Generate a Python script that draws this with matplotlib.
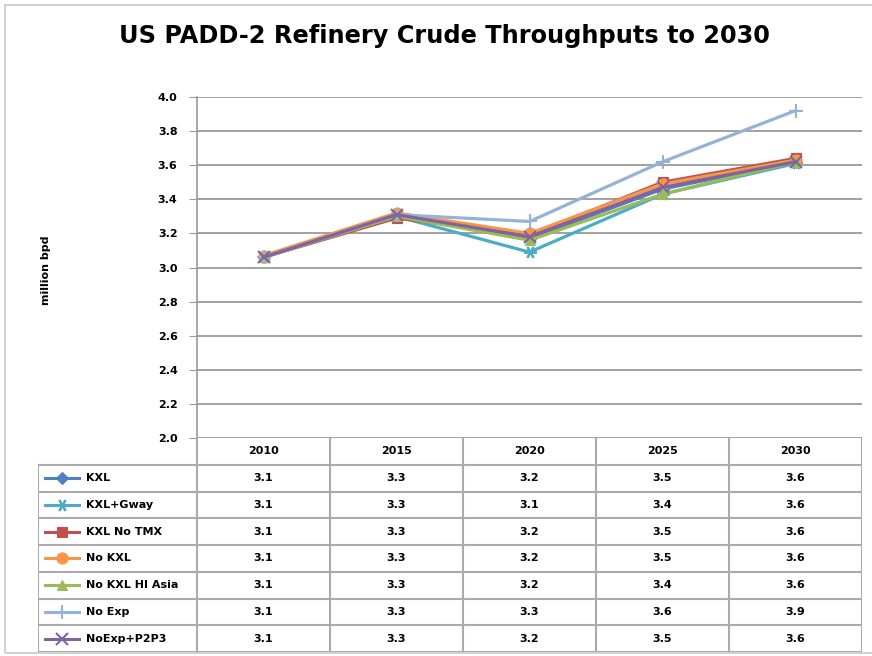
"""
US PADD-2 refinery crude throughputs chart with data table underneath.
"""
import matplotlib
matplotlib.use("Agg")
import matplotlib.pyplot as plt
from matplotlib.lines import Line2D
from matplotlib.patches import Rectangle

years = ["2010", "2015", "2020", "2025", "2030"]
series_names = ["KXL", "KXL+Gway", "KXL No TMX", "No KXL",
                "No KXL HI Asia", "No Exp", "NoExp+P2P3"]

kxl = [3.06, 3.31, 3.17, 3.46, 3.62]
kxl_gway = [3.06, 3.30, 3.09, 3.43, 3.61]
kxl_no_tmx = [3.06, 3.29, 3.19, 3.50, 3.64]
no_kxl = [3.07, 3.32, 3.20, 3.49, 3.63]
no_kxl_hi_asia = [3.06, 3.30, 3.16, 3.43, 3.62]
no_exp = [3.06, 3.31, 3.27, 3.62, 3.92]
noexp_p2p3 = [3.06, 3.31, 3.18, 3.47, 3.62]

series_values = [kxl, kxl_gway, kxl_no_tmx, no_kxl, no_kxl_hi_asia, no_exp, noexp_p2p3]
colors = ["#4F81BD", "#4BACC6", "#C0504D", "#F79646", "#9BBB59", "#95B3D7", "#8064A2"]
markers = ["D", (6, 2, 90), "s", "o", "^", "+", "x"]
msizes = [6, 9, 7, 8, 7, 10, 8]
thin = [False, True, False, False, False, True, True]

W, H = 872, 656
fig = plt.figure(figsize=(W / 100, H / 100), dpi=100)

# light frame around the whole chart
fig.patches.append(Rectangle((5 / W, 3 / H), (W + 10) / W, (H - 8) / H,
                             transform=fig.transFigure, fill=False,
                             edgecolor="#c8c8c8", linewidth=1.2))

# plot area
left, right, top, bottom = 197, 862, 97, 438
ax = fig.add_axes([left / W, 1 - bottom / H, (right - left) / W, (bottom - top) / H])
x = range(len(years))
for vals, c, m, ms, t in zip(series_values, colors, markers, msizes, thin):
    ax.plot(x, vals, color=c, marker=m, markersize=ms, linewidth=2.3,
            markeredgewidth=1.5 if t else 0.8, markeredgecolor=c)
ax.set_xlim(-0.5, len(years) - 0.5)
ax.set_ylim(2.0, 4.0)
ax.set_yticks([2.0 + 0.2 * i for i in range(11)])
ax.set_yticklabels([f"{2.0 + 0.2 * i:.1f}" for i in range(11)],
                   fontsize=8, fontweight="bold")
ax.set_xticks([])
ax.grid(axis="y", color="#9a9a9a", linewidth=1.3)
ax.set_axisbelow(True)
for s in ["top", "right", "bottom"]:
    ax.spines[s].set_visible(False)
ax.spines["left"].set_color("#9a9a9a")
ax.spines["left"].set_linewidth(1.2)
ax.tick_params(axis="y", length=6, color="#9a9a9a", pad=8)

fig.text(46 / W, 1 - 270 / H, "million bpd", rotation=90, ha="center", va="center",
         fontsize=8, fontweight="bold")
fig.text(444 / W, 1 - 36 / H, "US PADD-2 Refinery Crude Throughputs to 2030",
         ha="center", va="center", fontsize=17.3, fontweight="bold")

# data table below the plot
t_left, t_bottom = 38, 652
label_w = (left - t_left) / ((right - left) / len(years))
tax = fig.add_axes([t_left / W, 1 - t_bottom / H, (right - t_left) / W, (t_bottom - bottom) / H])
n_rows = len(series_names) + 1
tax.set_xlim(-0.5 - label_w, len(years) - 0.5)
tax.set_ylim(n_rows, 0)
tax.axis("off")
lc, lw = "#ababab", 1.5

# header row
for j, yr in enumerate(years):
    tax.text(j, 0.5, yr, ha="center", va="center", fontsize=8, fontweight="bold")
for j in range(len(years) + 1):
    tax.plot([j - 0.5, j - 0.5], [0, 1], color=lc, linewidth=lw)
# body rows
xl = -0.5 - label_w
for i in range(1, n_rows + 1):
    tax.plot([xl, len(years) - 0.5], [i, i], color=lc, linewidth=lw)
for xv in [xl] + [j - 0.5 for j in range(len(years) + 1)]:
    tax.plot([xv, xv], [1, n_rows], color=lc, linewidth=lw)
for i, (name, vals, c, m, ms, t) in enumerate(zip(series_names, series_values, colors,
                                                  markers, msizes, thin)):
    yc = i + 1.5
    kx0 = xl + 0.05
    tax.add_line(Line2D([kx0, kx0 + 0.26], [yc, yc], color=c, linewidth=2.2))
    tax.plot(kx0 + 0.13, yc, marker=m, color=c, markersize=ms,
             markeredgewidth=1.5 if t else 0.8, markeredgecolor=c)
    tax.text(kx0 + 0.31, yc, name, ha="left", va="center", fontsize=8, fontweight="bold")
    for j, v in enumerate(vals):
        tax.text(j, yc, f"{v:.1f}", ha="center", va="center", fontsize=8, fontweight="bold")

fig.savefig("out.png", dpi=100)
